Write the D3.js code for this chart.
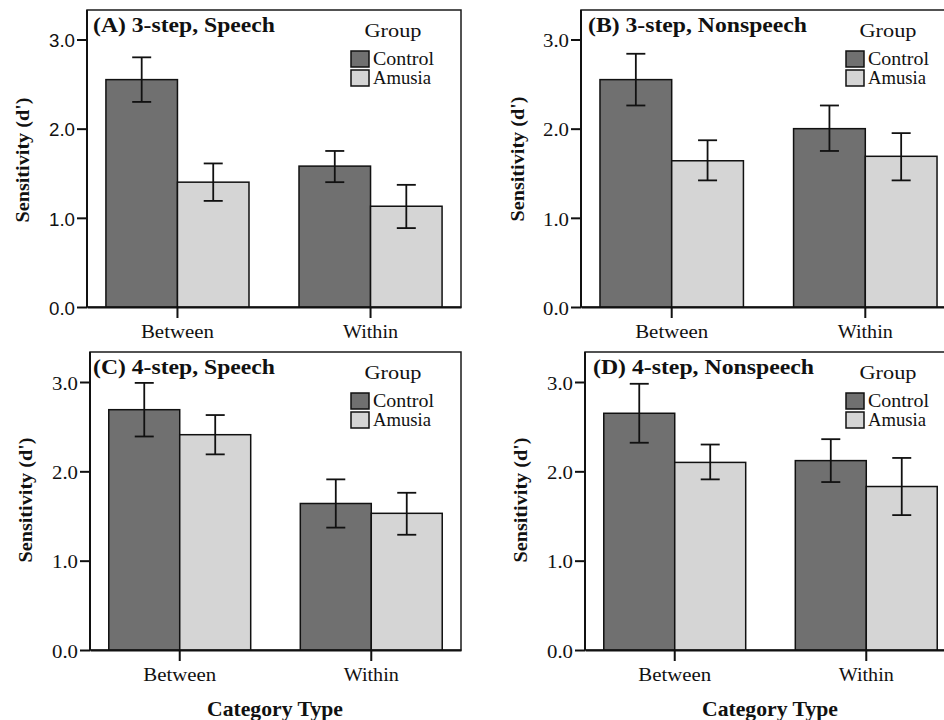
<!DOCTYPE html>
<html><head><meta charset="utf-8">
<script src="https://cdn.jsdelivr.net/npm/d3@7"></script>
<style>body{margin:0;background:#fff}</style>
</head><body>
<svg id="c" width="944" height="720"></svg>
<script>
const categories = ["Between", "Within"];
const groups = ["Control", "Amusia"];
const panelTitles = ["(A) 3-step, Speech", "(B) 3-step, Nonspeech", "(C) 4-step, Speech", "(D) 4-step, Nonspeech"];
const yTicks = [0, 1, 2, 3];
const yLabel = "Sensitivity (d')";
const xLabel = "Category Type";
const legendTitle = "Group";
// values per panel: [Between, Within]
const controlMean = [[2.55, 1.58], [2.55, 2.00], [2.69, 1.64], [2.65, 2.12]];
const amusiaMean  = [[1.40, 1.13], [1.64, 1.69], [2.41, 1.53], [2.10, 1.83]];
const controlLow  = [[2.30, 1.40], [2.26, 1.75], [2.39, 1.37], [2.32, 1.88]];
const controlHigh = [[2.80, 1.75], [2.84, 2.26], [2.99, 1.91], [2.98, 2.36]];
const amusiaLow   = [[1.19, 0.885], [1.42, 1.42], [2.19, 1.29], [1.91, 1.51]];
const amusiaHigh  = [[1.61, 1.37], [1.87, 1.95], [2.63, 1.76], [2.30, 2.15]];

const SERIF = "'Liberation Serif','Times New Roman',serif";
const SANS = "'Liberation Sans',Arial,sans-serif";
const colors = {Control: "#707070", Amusia: "#d5d5d5"};

const layout = [
  {left: 87, right: 461, top: 10, y0: 307, y3: 39.5, tickFont: SANS, tickLen: 26, ylx: 22, yly: 160, titleDx: 6, titleW: 182, showX: false},
  {left: 581, right: 956, top: 10, y0: 307, y3: 39.5, tickFont: SERIF, tickLen: 26, ylx: 517, yly: 159, titleDx: 7, titleW: 219, showX: false},
  {left: 90, right: 461, top: 352, y0: 650, y3: 382, tickFont: SERIF, tickLen: 26, ylx: 25, yly: 500, titleDx: 3, titleW: 182, showX: true},
  {left: 585, right: 956, top: 352, y0: 650, y3: 382, tickFont: SERIF, tickLen: 26, ylx: 520, yly: 500, titleDx: 8, titleW: 221, showX: true}
];

const svg = d3.select("#c");

layout.forEach((L, p) => {
  const g = svg.append("g");
  const y = d3.scaleLinear().domain([0, 3]).range([L.y0, L.y3]);
  const x = d3.scaleBand().domain(categories).range([L.left, L.right]).paddingInner(0.259).paddingOuter(0.098);
  const xg = d3.scaleBand().domain(groups).range([0, x.bandwidth()]);

  // frame
  g.append("rect").attr("x", L.left).attr("y", L.top)
    .attr("width", L.right - L.left).attr("height", L.y0 - L.top)
    .attr("fill", "none").attr("stroke", "#1a1a1a").attr("stroke-width", 1.5);

  const rows = categories.map((c, i) => ({
    cat: c,
    vals: [
      {grp: "Control", m: controlMean[p][i], lo: controlLow[p][i], hi: controlHigh[p][i]},
      {grp: "Amusia", m: amusiaMean[p][i], lo: amusiaLow[p][i], hi: amusiaHigh[p][i]}
    ]
  }));

  const cg = g.selectAll(".cat").data(rows).join("g")
    .attr("transform", d => `translate(${x(d.cat)},0)`);
  cg.selectAll("rect").data(d => d.vals).join("rect")
    .attr("x", d => xg(d.grp)).attr("width", xg.bandwidth())
    .attr("y", d => y(d.m)).attr("height", d => y(0) - y(d.m))
    .attr("fill", d => colors[d.grp]).attr("stroke", "#111").attr("stroke-width", 1.5);
  const eb = cg.selectAll(".eb").data(d => d.vals).join("g")
    .attr("transform", d => `translate(${xg(d.grp) + xg.bandwidth() / 2},0)`)
    .attr("stroke", "#111").attr("stroke-width", 1.8);
  eb.append("line").attr("y1", d => y(d.lo)).attr("y2", d => y(d.hi));
  eb.append("line").attr("x1", -9.5).attr("x2", 9.5).attr("y1", d => y(d.lo)).attr("y2", d => y(d.lo));
  eb.append("line").attr("x1", -9.5).attr("x2", 9.5).attr("y1", d => y(d.hi)).attr("y2", d => y(d.hi));

  // y axis
  const ya = g.append("g").attr("transform", `translate(${L.left},0)`)
    .call(d3.axisLeft(y).tickValues(yTicks).tickFormat(d3.format(".1f")).tickSize(10).tickPadding(2).tickSizeOuter(0));
  ya.select(".domain").attr("d", `M0,${L.top}V${L.y0}`).attr("stroke", "#111").attr("stroke-width", 2);
  ya.selectAll(".tick line").attr("stroke", "#111").attr("stroke-width", 2);
  ya.selectAll(".tick text").attr("font-family", L.tickFont).attr("font-size", 18).attr("fill", "#111")
    .attr("dy", "0.4em")
    .attr("textLength", L.tickLen).attr("lengthAdjust", "spacingAndGlyphs");

  // x axis
  const xa = g.append("g").attr("transform", `translate(0,${L.y0})`)
    .call(d3.axisBottom(x).tickSize(11).tickSizeOuter(0));
  xa.select(".domain").attr("stroke", "#111").attr("stroke-width", 2);
  xa.selectAll(".tick line").attr("stroke", "#111").attr("stroke-width", 2);
  xa.selectAll(".tick text").attr("font-family", SERIF).attr("font-size", 19).attr("fill", "#111")
    .attr("y", 31).attr("dy", 0)
    .attr("textLength", d => d === "Between" ? 73 : 55).attr("lengthAdjust", "spacingAndGlyphs");

  // title
  g.append("text").attr("x", L.left + L.titleDx).attr("y", L.top + 21.5)
    .attr("font-family", SERIF).attr("font-weight", "bold").attr("font-size", 20).attr("fill", "#111")
    .attr("textLength", L.titleW).attr("lengthAdjust", "spacingAndGlyphs")
    .text(panelTitles[p]);

  // y label
  g.append("text").attr("transform", `translate(${L.ylx + 7},${L.yly}) rotate(-90)`)
    .attr("text-anchor", "middle").attr("font-family", SERIF).attr("font-weight", "bold").attr("font-size", 19)
    .attr("fill", "#111").attr("textLength", 125).attr("lengthAdjust", "spacingAndGlyphs")
    .text(yLabel);

  // legend
  const lg = g.append("g").attr("transform", `translate(${L.right - 110},${L.top})`);
  lg.append("text").attr("x", 42).attr("y", 27).attr("text-anchor", "middle")
    .attr("font-family", SERIF).attr("font-size", 18).attr("fill", "#111")
    .attr("textLength", 57).attr("lengthAdjust", "spacingAndGlyphs").text(legendTitle);
  const li = lg.selectAll(".li").data(groups).join("g")
    .attr("transform", (d, i) => `translate(0,${41 + i * 19})`);
  li.append("rect").attr("width", 18).attr("height", 16)
    .attr("fill", d => colors[d]).attr("stroke", "#111").attr("stroke-width", 1.5);
  li.append("text").attr("x", 22).attr("y", 14)
    .attr("font-family", SERIF).attr("font-size", 18).attr("fill", "#111")
    .attr("textLength", d => d === "Control" ? 61 : 58).attr("lengthAdjust", "spacingAndGlyphs")
    .text(d => d);

  if (L.showX) {
    g.append("text").attr("x", p === 2 ? 275 : 770).attr("y", 716).attr("text-anchor", "middle")
      .attr("font-family", SERIF).attr("font-weight", "bold").attr("font-size", 21).attr("fill", "#111")
      .attr("textLength", 136).attr("lengthAdjust", "spacingAndGlyphs").text(xLabel);
  }
});
</script>
</body></html>
